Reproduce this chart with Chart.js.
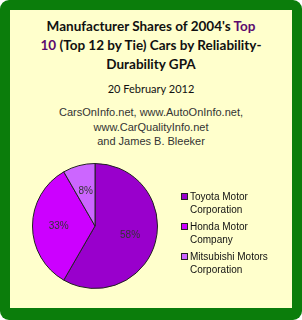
<!DOCTYPE html>
<html>
<head>
<meta charset="utf-8">
<script src="https://cdn.jsdelivr.net/npm/chart.js@4"></script>
<style>
  body { margin: 0; }
  #frame { position: absolute; left: 0; top: 0; width: 302px; height: 320px; background: #0b7d0b; border-radius: 9px; }
  #inner { position: absolute; left: 10px; top: 10px; width: 282px; height: 298px; background: #ffffcc; }
  #title { position: absolute; left: 0; top: 7px; width: 282px; text-align: center; font: bold 13.5px Lato, sans-serif; line-height: 19px; color: #111; }
  #title .hl { color: #5c0a6e; }
  #date { position: absolute; left: 0; top: 72px; width: 282px; text-align: center; font: 11px Lato, sans-serif; color: #111; }
  #src { position: absolute; left: 0; top: 95px; width: 282px; text-align: center; font: 11px "Liberation Sans", sans-serif; line-height: 14.5px; color: #333; }
  #wrap { position: absolute; left: 0; top: 140px; width: 282px; height: 158px; }
</style>
</head>
<body>
<div id="frame"><div id="inner">
  <div id="title">Manufacturer Shares of 2004's <span class="hl">Top</span><br><span class="hl">10</span> (Top 12 by Tie) Cars by Reliability-<br>Durability GPA</div>
  <div id="date">20 February 2012</div>
  <div id="src">CarsOnInfo.net, www.AutoOnInfo.net,<br>www.CarQualityInfo.net<br>and James B. Bleeker</div>
  <div id="wrap"><canvas id="pieChart"></canvas></div>
</div></div>
<script>
const makers = ['Toyota Motor Corporation', 'Honda Motor Company', 'Mitsubishi Motors Corporation'];
const legendLines = [['Toyota Motor', 'Corporation'], ['Honda Motor', 'Company'], ['Mitsubishi Motors', 'Corporation']];
const carCounts = [7, 4, 1];
const pctLabels = ['58%', '33%', '8%'];
const sliceColors = ['#9900cc', '#cc00ff', '#cc66ff'];

// percent labels inside slices + two-line legend on the right
const extras = {
    id: 'extras',
    afterDraw(chart) {
        const c = chart.ctx;
        const arcs = chart.getDatasetMeta(0).data;
        c.save();
        c.font = '10px "Liberation Sans", sans-serif';
        c.fillStyle = '#333';
        c.textAlign = 'center';
        c.textBaseline = 'middle';
        arcs.forEach((a, i) => {
            const mid = (a.startAngle + a.endAngle) / 2;
            const r = a.outerRadius * 0.58;
            c.fillText(pctLabels[i], a.x + Math.cos(mid) * r, a.y + Math.sin(mid) * r);
        });
        c.textAlign = 'left';
        legendLines.forEach((lines, i) => {
            const y = 47 + i * 30;
            c.fillStyle = sliceColors[i];
            c.fillRect(171.5, y - 3.5, 6, 6);
            c.strokeStyle = '#222';
            c.lineWidth = 1;
            c.strokeRect(171.5, y - 3.5, 6, 6);
            c.fillStyle = '#111';
            lines.forEach((t, k) => c.fillText(t, 180, y + k * 13));
        });
        c.restore();
    }
};

new Chart(document.getElementById('pieChart'), {
    type: 'pie',
    data: {
        labels: makers,
        datasets: [{
            data: carCounts,
            backgroundColor: sliceColors,
            borderColor: '#222',
            borderWidth: 1
        }]
    },
    options: {
        responsive: true,
        maintainAspectRatio: false,
        animation: false,
        layout: { padding: { left: 22, top: 13, right: 134, bottom: 19 } },
        plugins: {
            legend: { display: false },
            tooltip: { enabled: false }
        }
    },
    plugins: [extras]
});
</script>
</body>
</html>
